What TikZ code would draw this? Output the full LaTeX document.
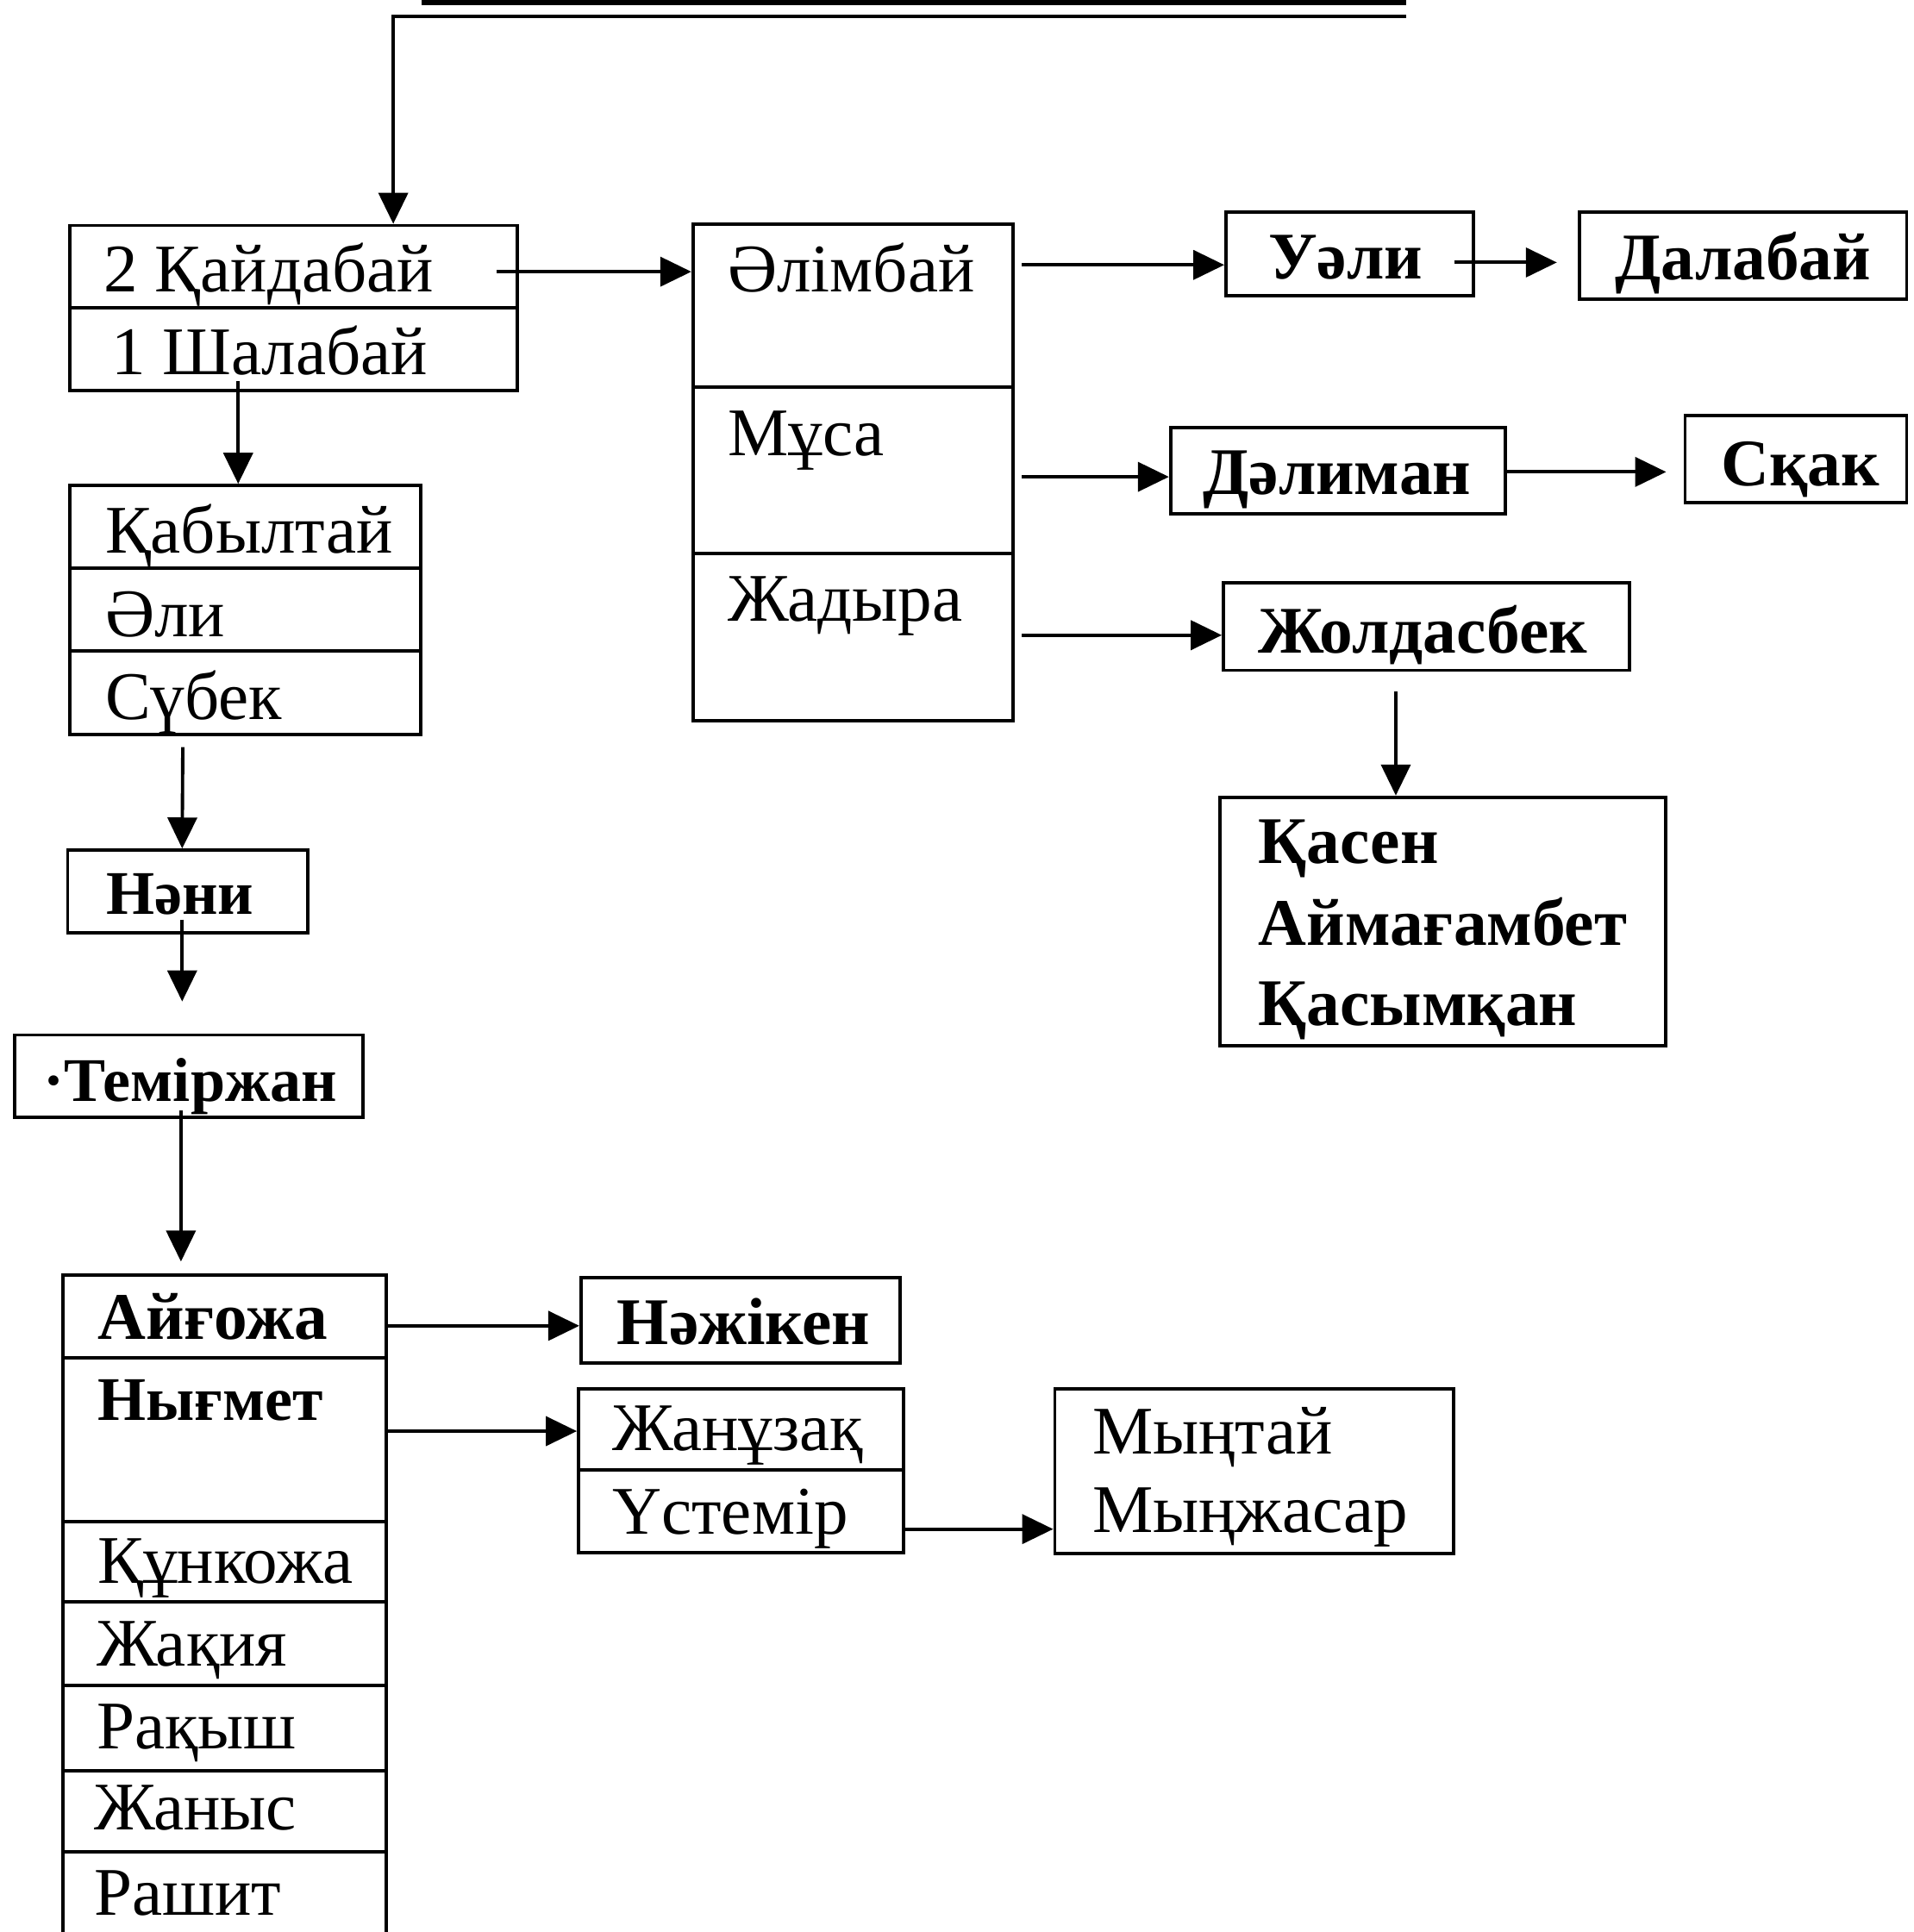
\documentclass[tikz,border=0pt]{standalone}
\usepackage{fontspec}
\setmainfont{Liberation Serif}
\usetikzlibrary{positioning,fit,arrows.meta,calc}

\begin{document}
\begin{tikzpicture}[
    x=0.014289cm, y=-0.014292cm,
    cell/.style={rectangle, draw, inner sep=0pt, line width=1.1pt},
    nm/.style={anchor=base west, inner sep=0pt, font=\fontsize{22.5}{27}\selectfont},
    nmb/.style={nm, font=\fontsize{22}{27}\selectfont\bfseries},
    nmc/.style={nm, font=\fontsize{20.5}{27}\selectfont\bfseries},
    arrow/.style={-{Triangle[length=3.6mm, width=3.4mm]}, line width=1.1pt},
]
\useasboundingbox (0,0) rectangle (1555,1568);

% ====== Top (box cut off by the page) ======
\node[cell, line width=2pt, fit={(345,-60) (1140,2)}] (root) {};

% ====== First generations ======
\node[cell, fit={(57,183) (420,250)}] (kaid) {};
\node[cell, fit={(57,250) (420,317)}] (shal) {};
\node[nm] (kaidT) at (84,237) {2 Қайдабай};
\node[nm] (shalT) at (90,304) {1 Шалабай};

\node[cell, fit={(57,394) (342,461)}] (kabyl) {};
\node[cell, fit={(57,461) (342,528)}] (ali) {};
\node[cell, fit={(57,528) (342,596)}] (subek) {};
\node[nm] (kabylT) at (85,449) {Қабылтай};
\node[nm] (aliT) at (85,517) {Әли};
\node[nm] (subekT) at (85,584) {Сүбек};

\node[cell, fit={(55,690) (250,757)}] (nani) {};
\node[nmc] (naniT) at (86,742) {Нәни};
\node[cell, fit={(12,840) (295,907)}] (temir) {};
\node[nmc] (temirT) at (35,894) {·Теміржан};

% ====== Kaidabai's line ======
\node[cell, fit={(563,182) (823,314)}] (alim) {};
\node[cell, fit={(563,314) (823,449)}] (musa) {};
\node[cell, fit={(563,449) (823,585)}] (zhad) {};
\node[nm] (alimT) at (591,237) {Әлімбай};
\node[nm] (musaT) at (591,370) {Мұса};
\node[nm] (zhadT) at (591,504) {Жадыра};

\node[cell, fit={(996,172) (1197,240)}] (ueli) {};
\node[nmb] (ueliT) at (1030,226) {Уәли};
\node[cell, fit={(1283,172) (1549,243)}] (dala) {};
\node[nmb] (dalaT) at (1312,227) {Далабай};
\node[cell, fit={(951,347) (1223,417)}] (dali) {};
\node[nmb] (daliT) at (977,401) {Дәлиман};
\node[cell, fit={(1369,337) (1549,408)}] (skak) {};
\node[nmb] (skakT) at (1398,394) {Сқак};
\node[cell, fit={(994,473) (1324,544)}] (zhol) {};
\node[nmb] (zholT) at (1022,530) {Жолдасбек};
\node[cell, fit={(991,647) (1353,849)}] (kasen) {};
\node[nmb] (kasenT) at (1022,701) {Қасен};
\node[nmb] (aimT) at (1022,767) {Аймағамбет};
\node[nmb] (kasymT) at (1022,832) {Қасымқан};

% ====== Temirzhan's children ======
\node[cell, fit={(51,1035) (314,1102)}] (ayg) {};
\node[cell, fit={(51,1102) (314,1235)}] (nyg) {};
\node[cell, fit={(51,1235) (314,1300)}] (kun) {};
\node[cell, fit={(51,1300) (314,1368)}] (zhak) {};
\node[cell, fit={(51,1368) (314,1437)}] (rak) {};
\node[cell, fit={(51,1437) (314,1503)}] (zhan) {};
\node[cell, fit={(51,1503) (314,1640)}] (rash) {};
\node[nmb] (aygT) at (79,1087) {Айғожа};
\node[nmc] (nygT) at (79,1153) {Нығмет};
\node[nm] (kunT) at (79,1285) {Құнкожа};
\node[nm] (zhakT) at (78,1352) {Жақия};
\node[nm] (rakT) at (78,1419) {Рақыш};
\node[nm] (zhanT) at (76,1485) {Жаныс};
\node[nm] (rashT) at (76,1554) {Рашит};

\node[cell, fit={(472,1037) (731,1106)}] (nazh) {};
\node[nmb] (nazhT) at (501,1091) {Нәжікен};
\node[cell, fit={(470,1127) (734,1193)}] (zhanu) {};
\node[cell, fit={(470,1193) (734,1260)}] (ustem) {};
\node[nm] (zhanuT) at (497,1177) {Жанұзақ};
\node[nm] (ustemT) at (497,1245) {Үстемір};
\node[cell, fit={(857,1127) (1181,1261)}] (myn) {};
\node[nm] (myntT) at (887,1180) {Мыңтай};
\node[nm] (mynzhT) at (887,1244) {Мыңжасар};

% ====== Arrows ======
\draw[arrow] ($(root.south east)+(0,9)$) -| ($(kaid.north)+(81,0)$);
\draw[arrow] ($(kaid.east)+(-18,4)$) -- ($(kaid.east -| alim.west)+(0,4)$);
\draw[arrow] ($(shal.south)+(-45,-9)$) -- ($(kabyl.north)+(-6,0)$);
\draw[arrow] ($(subek.south)+(-51,9)$) -- ($(nani.north)+(-4.5,0)$);
\draw[arrow, shorten >=0.37cm] ($(nani.south)+(-4.5,-12)$) -- ($(temir.north)+(-5.5,0)$);
\draw[arrow, shorten >=0.14cm] ($(temir.south)+(-6.5,-7)$) -- ($(ayg.north)+(-35.5,0)$);

\draw[arrow] ($(alim.east |- ueli.west)+(6,9)$) -- ($(ueli.west)+(0,9)$);
\draw[arrow, shorten >=0.24cm] ($(ueli.east)+(-17,7)$) -- ($(ueli.east -| dala.west)+(0,7)$);
\draw[arrow] ($(musa.east |- dali.west)+(6,5)$) -- ($(dali.west)+(0,5)$);
\draw[arrow, shorten >=0.2cm] ($(dali.east)+(0,1)$) -- ($(dali.east -| skak.west)+(0,1)$);
\draw[arrow] ($(zhad.east |- zhol.west)+(6,7)$) -- ($(zhol.west)+(0,7)$);
\draw[arrow] ($(zhol.south)+(-25,16)$) -- ($(kasen.north)+(-38,0)$);

\draw[arrow] ($(ayg.east)+(0,7.5)$) -- ($(ayg.east -| nazh.west)+(0,7.5)$);
\draw[arrow] ($(nyg.east |- zhanu.west)+(0,1.5)$) -- ($(zhanu.west)+(0,1.5)$);
\draw[arrow] ($(ustem.east)+(0,14.5)$) -- ($(ustem.east -| myn.west)+(0,14.5)$);

\end{tikzpicture}
\end{document}
